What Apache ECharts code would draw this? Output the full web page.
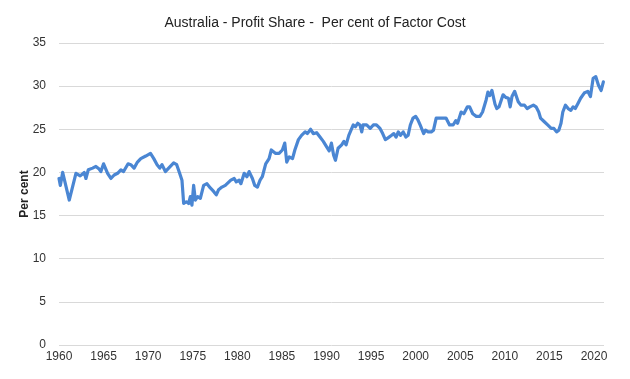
<!DOCTYPE html>
<html>
<head>
<meta charset="utf-8">
<script src="https://cdn.jsdelivr.net/npm/echarts@6/dist/echarts.min.js"></script>
<style>html,body{margin:0;padding:0;background:#fff}#c{width:630px;height:379px}</style>
</head>
<body>
<div id="c"></div>
<script>
const titleText = "Australia - Profit Share -  Per cent of Factor Cost";
const yAxisName = "Per cent";
const years = [
1960.0,1960.15,1960.41,1961.15,1961.9,1962.38,1962.83,1963.02,1963.28,1963.77,
1964.14,1964.5,1964.7,1965.0,1965.45,1965.82,1966.19,1966.57,1966.94,1967.24,
1967.75,1968.05,1968.42,1968.8,1969.17,1969.73,1970.26,1970.63,1971.0,1971.3,
1971.55,1971.93,1972.3,1972.86,1973.2,1973.53,1973.79,1973.98,1974.28,1974.54,
1974.73,1974.91,1975.1,1975.29,1975.55,1975.85,1976.22,1976.59,1976.97,1977.34,
1977.64,1977.9,1978.27,1978.65,1978.83,1979.27,1979.65,1979.88,1980.2,1980.4,
1980.77,1981.07,1981.32,1981.69,1981.95,1982.25,1982.55,1982.8,1983.18,1983.56,
1983.81,1984.3,1984.68,1985.05,1985.32,1985.54,1985.82,1986.19,1986.45,1986.85,
1987.2,1987.6,1987.85,1988.22,1988.52,1988.9,1989.27,1989.64,1990.0,1990.3,
1990.55,1990.8,1991.0,1991.3,1991.7,1991.95,1992.2,1992.5,1992.7,1993.0,
1993.25,1993.5,1993.75,1993.95,1994.1,1994.5,1994.9,1995.25,1995.6,1996.0,
1996.3,1996.6,1996.9,1997.3,1997.55,1997.8,1998.05,1998.3,1998.6,1998.9,
1999.15,1999.4,1999.7,2000.0,2000.25,2000.5,2000.9,2001.1,2001.4,2001.75,
2002.0,2002.3,2002.7,2003.1,2003.4,2003.8,2004.2,2004.5,2004.7,2005.1,
2005.4,2005.8,2006.05,2006.4,2006.8,2007.2,2007.5,2007.9,2008.1,2008.3,
2008.55,2008.9,2009.1,2009.35,2009.55,2009.8,2010.1,2010.4,2010.6,2010.8,
2011.1,2011.5,2011.8,2012.2,2012.5,2012.8,2013.2,2013.5,2013.8,2014.0,
2014.4,2014.8,2015.2,2015.5,2015.8,2016.05,2016.3,2016.5,2016.8,2017.1,
2017.4,2017.65,2017.9,2018.2,2018.5,2018.9,2019.3,2019.6,2019.9,2020.2,
2020.5,2020.8,2021.05
];
const profitShare = [
19.3,18.5,20.0,16.8,19.9,19.6,20.0,19.3,20.3,20.5,
20.7,20.4,20.1,21.0,19.9,19.3,19.7,19.9,20.3,20.1,
21.0,20.9,20.5,21.2,21.6,21.9,22.2,21.6,20.9,20.5,
20.9,20.1,20.5,21.1,20.9,19.9,19.1,16.4,16.6,16.4,
17.2,16.2,18.5,16.8,17.2,17.0,18.5,18.7,18.2,17.8,
17.4,18.0,18.3,18.5,18.3,19.1,19.3,18.9,19.1,18.7,
19.9,19.5,20.1,19.3,18.5,18.3,19.1,19.5,21.0,21.6,
22.6,22.2,22.2,22.6,23.4,21.2,21.8,21.6,22.6,23.8,
24.3,24.7,24.5,25.0,24.5,24.6,24.1,23.6,23.0,22.5,
23.4,22.0,21.4,22.8,23.2,23.6,23.2,24.3,24.5,25.5,
25.3,25.7,25.5,24.7,25.5,25.5,25.1,25.5,25.5,25.1,
24.5,23.8,24.0,24.3,24.5,24.1,24.7,24.3,24.7,24.1,
24.3,25.5,26.3,26.5,26.1,25.5,24.5,24.9,24.7,24.7,
24.9,26.3,26.3,26.3,26.3,25.5,25.5,26.0,25.7,27.0,
26.8,27.6,27.6,26.8,26.5,26.5,27.0,28.4,29.3,28.9,
29.5,27.9,27.4,27.6,27.4,29.0,28.7,28.6,27.6,28.8,
29.4,28.2,27.8,27.8,27.4,27.6,27.8,27.6,27.0,26.3,
25.9,25.5,25.1,25.1,24.7,24.9,25.7,27.0,27.8,27.4,
27.2,27.6,27.4,28.0,28.6,29.2,29.4,28.8,30.9,31.1,
30.1,29.5,30.5
];
const xTicks = [1960,1965,1970,1975,1980,1985,1990,1995,2000,2005,2010,2015,2020];
const yTicks = [0,5,10,15,20,25,30,35];

const chart = echarts.init(document.getElementById('c'), null, {renderer:'canvas'});
chart.setOption({
  animation:false,
  backgroundColor:'#ffffff',
  title:{
    text:titleText, left:'center', top:11,
    textStyle:{fontFamily:'Liberation Sans', fontSize:14, fontWeight:'normal', color:'#222'}
  },
  grid:{left:59, right:26, top:43, bottom:34, containLabel:false},
  xAxis:{
    type:'value', min:1960, max:2021.12, interval:5,
    axisLine:{show:false}, axisTick:{show:false}, splitLine:{show:false},
    axisLabel:{
      customValues:xTicks,
      fontFamily:'Liberation Sans', fontSize:12, color:'#333', margin:6,
      formatter:v=>String(v)
    }
  },
  yAxis:{
    type:'value', min:0, max:35, interval:5,
    name:yAxisName, nameLocation:'middle', nameGap:28, nameRotate:90,
    nameMoveOverlap:false,
    nameTextStyle:{fontFamily:'Liberation Sans', fontSize:12, fontWeight:'bold', color:'#222'},
    axisLine:{show:false}, axisTick:{show:false},
    axisLabel:{fontFamily:'Liberation Sans', fontSize:12, color:'#333', margin:13},
    splitLine:{lineStyle:{color:'#d9d9d9', width:1}}
  },
  series:[{
    type:'line',
    data:years.map((y,i)=>[y,profitShare[i]]),
    showSymbol:false, symbol:'none',
    lineStyle:{color:'#4a86d3', width:3.2, join:'round', cap:'round'},
    smooth:false
  }]
});
</script>
</body>
</html>
